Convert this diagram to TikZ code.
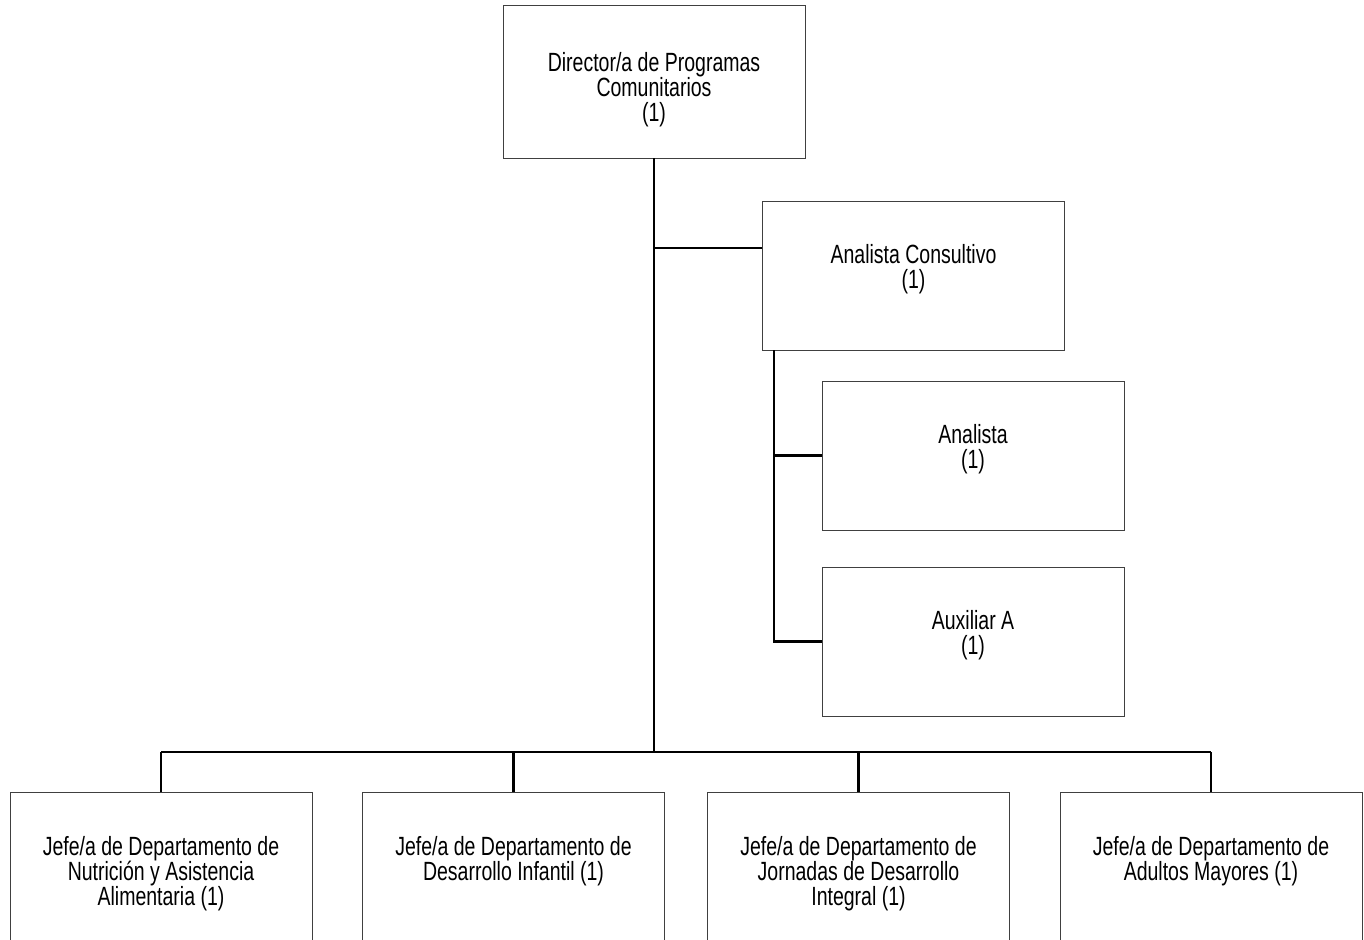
\documentclass[tikz,border=0pt]{standalone}
\usepackage{fontspec}
\setmainfont{Liberation Sans}[FakeStretch=0.74]
\usetikzlibrary{calc}

\tikzset{
	puesto/.style={draw=black!75, line width=0.5pt, minimum width=6.04cm, minimum height=2.98cm, inner sep=0pt},
	texto/.style={anchor=north, inner sep=0pt, align=center, font=\fontsize{15}{14.5}\selectfont},
	linea/.style={line width=1.2pt}
}

\begin{document}
\begin{tikzpicture}[x=0.02cm, y=-0.02cm]
	\useasboundingbox (0,0) rectangle (1364,939);
	\clip (0,0) rectangle (1364,939);
	
	% cajas
	\node[puesto, minimum height=3.06cm] (dir) at (654,81.5) {};
	\node[puesto] (cons) at (913.5,275.5) {};
	\node[puesto] (anal) at (973,455.5) {};
	\node[puesto] (aux) at (973,641.5) {};
	\node[puesto, minimum height=3.2cm] (j1) at (161,872) {};
	\node[puesto, minimum height=3.2cm] (j2) at (513.5,872) {};
	\node[puesto, minimum height=3.2cm] (j3) at (858.5,872) {};
	\node[puesto, minimum height=3.2cm] (j4) at (1211,872) {};
	
	% textos
	\node[texto] (dir-t) at ($(dir.north)+(0,47)$) {Director/a de Programas\\Comunitarios\\(1)};
	\node[texto] (cons-t) at ($(cons.north)+(0,43)$) {Analista Consultivo\\(1)};
	\node[texto] (anal-t) at ($(anal.north)+(0,43)$) {Analista\\(1)};
	\node[texto] (aux-t) at ($(aux.north)+(0,43)$) {Auxiliar A\\(1)};
	\node[texto] (j1-t) at ($(j1.north)+(0,44)$) {Jefe/a de Departamento de\\Nutrición y Asistencia\\Alimentaria (1)};
	\node[texto] (j2-t) at ($(j2.north)+(0,44)$) {Jefe/a de Departamento de\\Desarrollo Infantil (1)};
	\node[texto] (j3-t) at ($(j3.north)+(0,44)$) {Jefe/a de Departamento de\\Jornadas de Desarrollo\\Integral (1)};
	\node[texto] (j4-t) at ($(j4.north)+(0,44)$) {Jefe/a de Departamento de\\Adultos Mayores (1)};
	
	\coordinate (bus) at (654,752);
	\coordinate (cons-in) at ($(cons.north west)!0.315!(cons.south west)$);
	\coordinate (ramal) at ($(cons.south west)+(12,0)$);
	
	\draw[linea] (dir.south) -- (bus);
	\draw[linea] (cons-in) -- (cons-in -| bus);
	\draw[linea] (ramal) -- (ramal |- aux.west) -- (aux.west);
	\draw[linea] (ramal |- anal.west) -- (anal.west);
	
	\draw[linea] (j1.north |- bus) -- (j4.north |- bus);
	\foreach \j in {j1,j2,j3,j4}
		\draw[linea] (\j.north |- bus) -- (\j.north);
\end{tikzpicture}
\end{document}
